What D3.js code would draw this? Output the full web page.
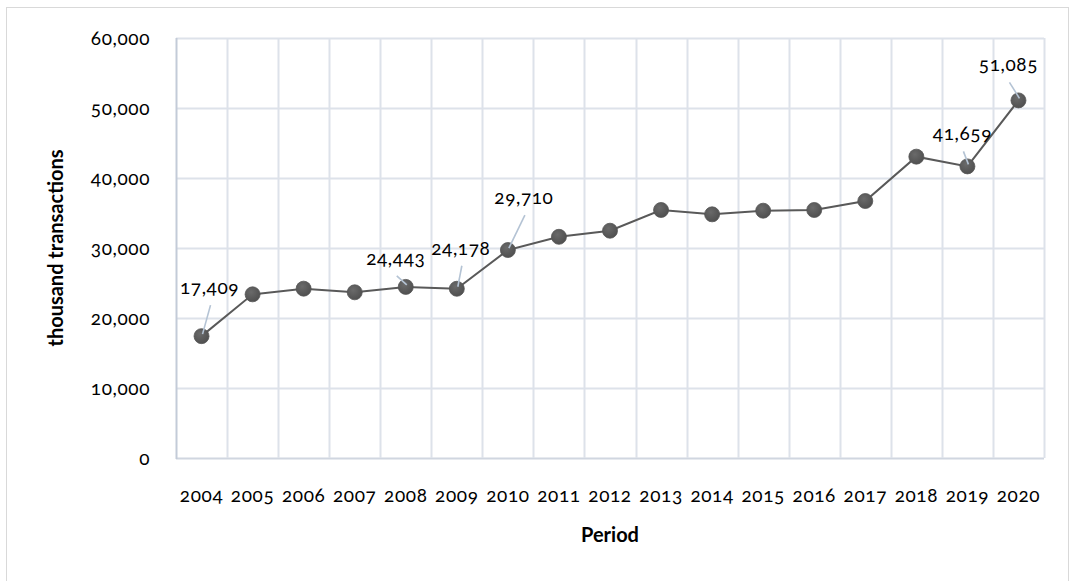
<!DOCTYPE html>
<html>
<head>
<meta charset="utf-8">
<script src="https://cdn.jsdelivr.net/npm/d3@7"></script>
<style>
  html, body { margin: 0; padding: 0; background: #fff; }
  svg text { font-family: Lato, "Open Sans", sans-serif; font-variant-numeric: oldstyle-nums; fill: #000; }
</style>
</head>
<body>
<svg id="chart" width="1074" height="581"></svg>
<script>
// Annual card transactions (thousands)
const years = ["2004","2005","2006","2007","2008","2009","2010","2011","2012",
               "2013","2014","2015","2016","2017","2018","2019","2020"];
const transactions = [17409, 23380, 24190, 23670, 24443, 24178, 29710, 31600, 32470,
                      35430, 34810, 35330, 35430, 36710, 43050, 41659, 51085];
const labelledYears = ["2004","2008","2009","2010","2019","2020"];
const yTicks = [0, 10000, 20000, 30000, 40000, 50000, 60000];
const xTitle = "Period";
const yTitle = "thousand transactions";

const svg = d3.select("#chart");
const plot = { left: 176, right: 1044, top: 38, bottom: 458 };

// outer frame
svg.append("rect")
  .attr("x", 6.5).attr("y", 7.5)
  .attr("width", 1062).attr("height", 580)
  .attr("fill", "#fff").attr("stroke", "#d9d9d9").attr("stroke-width", 1);

const x = d3.scaleBand().domain(years).range([plot.left, plot.right]).padding(0);
const y = d3.scaleLinear().domain([0, 60000]).range([plot.bottom, plot.top]);

const fmt = d3.format(",");
const grid = svg.append("g");

// horizontal gridlines
grid.selectAll("line.h").data(yTicks).join("line")
  .attr("x1", plot.left).attr("x2", plot.right)
  .attr("y1", d => Math.round(y(d)) + 0.5).attr("y2", d => Math.round(y(d)) + 0.5)
  .attr("stroke", d => d === 0 ? "#d0d6e0" : "#dde2ea").attr("stroke-width", 2);

// vertical gridlines at category boundaries
const bounds = years.map(d => x(d)).concat([plot.right]);
grid.selectAll("line.v").data(bounds.slice(1)).join("line")
  .attr("x1", d => Math.round(d) + 0.5).attr("x2", d => Math.round(d) + 0.5)
  .attr("y1", plot.top).attr("y2", plot.bottom)
  .attr("stroke", "#dde2ea").attr("stroke-width", 2);

// left axis line
grid.append("line")
  .attr("x1", plot.left + 0.5).attr("x2", plot.left + 0.5)
  .attr("y1", plot.top).attr("y2", plot.bottom + 1)
  .attr("stroke", "#c3cbd8").attr("stroke-width", 2);

const numStyle = sel => sel
  .attr("font-size", 19).attr("fill", "#000")
  .style("font-family", "Lato, sans-serif")
  .style("letter-spacing", "0.6px");

// y axis tick labels
const yAxis = d3.axisLeft(y).tickValues(yTicks).tickFormat(fmt).tickSize(0).tickPadding(26);
const yg = svg.append("g").attr("transform", `translate(${plot.left},0)`).call(yAxis);
yg.select(".domain").remove();
yg.selectAll("text").call(numStyle);

// x axis tick labels
const xAxis = d3.axisBottom(x).tickSize(0).tickPadding(31);
const xg = svg.append("g").attr("transform", `translate(0,${plot.bottom})`).call(xAxis);
xg.select(".domain").remove();
xg.selectAll("text").call(numStyle);

// axis titles
svg.append("text")
  .attr("x", (plot.left + plot.right) / 2).attr("y", 542)
  .attr("text-anchor", "middle").attr("font-size", 20).attr("font-weight", "bold")
  .text(xTitle);
svg.append("text")
  .attr("transform", `translate(63,${(plot.top + plot.bottom) / 2}) rotate(-90)`)
  .attr("text-anchor", "middle").attr("font-size", 20).attr("font-weight", "bold")
  .text(yTitle);

// series line
const pts = years.map((yr, i) => ({ year: yr, value: transactions[i] }));
const cx = d => x(d.year) + x.bandwidth() / 2;
const cy = d => y(d.value);

svg.append("path").datum(pts)
  .attr("fill", "none").attr("stroke", "#595959").attr("stroke-width", 2)
  .attr("d", d3.line().x(cx).y(cy));

// markers
const defs = svg.append("defs");
const grad = defs.append("radialGradient").attr("id", "dot").attr("cx", "40%").attr("cy", "35%").attr("r", "70%");
grad.append("stop").attr("offset", "0%").attr("stop-color", "#6a6a6a");
grad.append("stop").attr("offset", "100%").attr("stop-color", "#4e4e4e");

svg.selectAll("circle.pt").data(pts).join("circle")
  .attr("cx", cx).attr("cy", cy).attr("r", 7.5)
  .attr("fill", "url(#dot)").attr("stroke", "#555").attr("stroke-width", 0.8);

// value labels with leader lines
const labelPlacement = {
  "2004": [8, -47], "2008": [-10, -27], "2009": [4, -39],
  "2010": [16, -51], "2019": [-5, -31], "2020": [-10, -34]
};
const labelled = pts.filter(d => labelledYears.includes(d.year));

svg.selectAll("line.leader").data(labelled).join("line")
  .attr("x1", d => cx(d) + labelPlacement[d.year][0] + 1)
  .attr("y1", d => cy(d) + labelPlacement[d.year][1] + 16)
  .attr("x2", d => cx(d) + 1)
  .attr("y2", d => cy(d) - 2)
  .attr("stroke", "#b4c3d4").attr("stroke-width", 1.6);

svg.selectAll("text.val").data(labelled).join("text")
  .attr("x", d => cx(d) + labelPlacement[d.year][0])
  .attr("y", d => cy(d) + labelPlacement[d.year][1])
  .attr("text-anchor", "middle").attr("dominant-baseline", "middle")
  .call(numStyle)
  .text(d => fmt(d.value));
</script>
</body>
</html>
